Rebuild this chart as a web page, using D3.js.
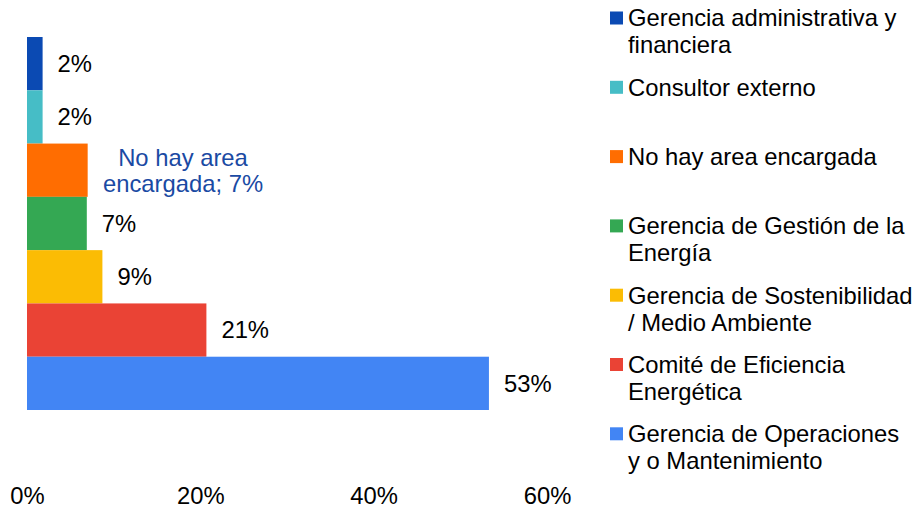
<!DOCTYPE html>
<html>
  <head>
    <meta charset="utf-8">
    <script type="text/javascript" src="https://d3js.org/d3.v7.min.js"></script>
    <style>
      body { margin: 0; background: #fff; }
      text { font-family: "Liberation Sans", Arial, sans-serif; }
    </style>
  </head>
  <body>
  </body>
  <script>

  // categories, top to bottom as drawn
  var categories = [
    "Gerencia administrativa y financiera",
    "Consultor externo",
    "No hay area encargada",
    "Gerencia de Gestión de la Energía",
    "Gerencia de Sostenibilidad / Medio Ambiente",
    "Comité de Eficiencia Energética",
    "Gerencia de Operaciones y o Mantenimiento"
  ];
  var shares = [0.018, 0.018, 0.07, 0.069, 0.087, 0.207, 0.533];
  var colors = ["#0b4ab3", "#46bdc6", "#ff6d01", "#34a853", "#fbbc04", "#ea4335", "#4285f4"];
  var tickValues = [0, 0.2, 0.4, 0.6];
  var callout = ["No hay area", "encargada; 7%"];

  var width = 918, height = 510, fontSize = 23.8;

  var svg = d3.select("body").append("svg")
              .attr("width", width)
              .attr("height", height);

  var x = d3.scaleLinear().domain([0, 0.6]).range([27, 547]);
  var y = d3.scaleBand().domain(categories).range([37, 410]).padding(0);

  svg.selectAll("rect.bar")
     .data(categories)
     .enter()
     .append("rect")
     .attr("class", "bar")
     .attr("x", x(0))
     .attr("y", function(d) { return y(d); })
     .attr("width", function(d, i) { return x(shares[i]) - x(0); })
     .attr("height", y.bandwidth())
     .style("fill", function(d, i) { return colors[i]; });

  // value labels (the orange bar gets the blue callout instead)
  svg.selectAll("text.val")
     .data(categories)
     .enter()
     .filter(function(d, i) { return i !== 2; })
     .append("text")
     .attr("class", "val")
     .attr("x", function(d) { return x(shares[categories.indexOf(d)]) + 15; })
     .attr("y", function(d) { return y(d) + y.bandwidth() / 2; })
     .attr("dy", "0.35em")
     .style("font-size", fontSize + "px")
     .style("fill", "#000")
     .text(function(d) { return d3.format(".0%")(shares[categories.indexOf(d)]); });

  var cy = y(categories[2]) + y.bandwidth() / 2;
  svg.selectAll("text.callout")
     .data(callout)
     .enter()
     .append("text")
     .attr("class", "callout")
     .attr("x", 183)
     .attr("y", function(d, i) { return cy + (i - 0.5) * 26; })
     .attr("dy", "0.35em")
     .attr("text-anchor", "middle")
     .style("font-size", fontSize + "px")
     .style("fill", "#1a4aa3")
     .text(function(d) { return d; });

  // x axis, labels only
  var axis = svg.append("g")
     .attr("transform", "translate(0,487)")
     .call(d3.axisBottom(x).tickValues(tickValues).tickSize(0).tickPadding(0).tickFormat(d3.format(".0%")));
  axis.select(".domain").remove();
  axis.selectAll("text")
     .attr("dy", "0.35em")
     .attr("y", 9)
     .style("font-family", "'Liberation Sans', Arial, sans-serif")
     .style("font-size", fontSize + "px")
     .style("fill", "#000");

  // legend
  function wrap(text, maxW) {
    var words = text.split(" "), lines = [], line = "";
    var probe = svg.append("text").style("font-size", fontSize + "px");
    words.forEach(function(w) {
      var test = line ? line + " " + w : w;
      probe.text(test);
      if (line && probe.node().getComputedTextLength() > maxW) {
        lines.push(line);
        line = w;
      } else {
        line = test;
      }
    });
    lines.push(line);
    probe.remove();
    return lines;
  }

  var legend = svg.selectAll("g.leg")
     .data(categories)
     .enter()
     .append("g")
     .attr("class", "leg")
     .attr("transform", function(d, i) { return "translate(610," + (18 + i * 69.3) + ")"; });

  legend.append("rect")
     .attr("x", 0)
     .attr("y", -6.5)
     .attr("width", 13)
     .attr("height", 13)
     .style("fill", function(d, i) { return colors[i]; });

  legend.each(function(d) {
    var g = d3.select(this);
    wrap(d, 287).forEach(function(line, j) {
      g.append("text")
       .attr("x", 18)
       .attr("y", j * 27)
       .attr("dy", "0.35em")
       .style("font-size", fontSize + "px")
       .style("fill", "#000")
       .text(line);
    });
  });

  </script>
</html>
